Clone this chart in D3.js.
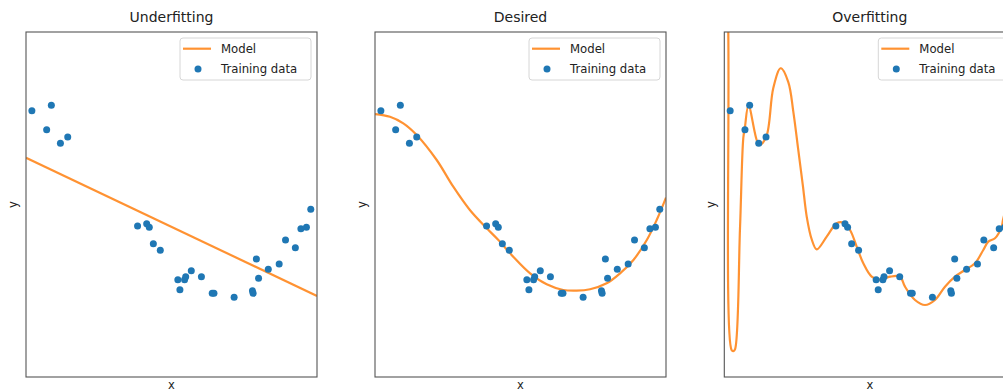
<!DOCTYPE html>
<html>
<head>
<meta charset="utf-8">
<script src="https://cdn.jsdelivr.net/npm/d3@7"></script>
<style>
  body { margin: 0; background: #fff; }
  svg { display: block; font-family: "DejaVu Sans", sans-serif; }
</style>
</head>
<body>
<div id="chart"></div>
<script>
// training samples (same in all three panels)
const trainX = [0.0202, 0.0710, 0.0871, 0.1183, 0.1434, 0.3834, 0.4147, 0.4237, 0.4376, 0.4615,
  0.5218, 0.5289, 0.5449, 0.5488, 0.5680, 0.6028, 0.6399, 0.6459, 0.7152, 0.7782,
  0.7805, 0.7917, 0.7992, 0.8326, 0.8700, 0.8918, 0.9256, 0.9447, 0.9637, 0.9786]
const trainY = [1.088, 0.867, 1.150, 0.710, 0.783, -0.249, -0.223, -0.264, -0.454, -0.531,
  -0.872, -0.988, -0.872, -0.837, -0.767, -0.837, -1.030, -1.030, -1.076, -0.999,
  -1.030, -0.632, -0.856, -0.751, -0.690, -0.412, -0.501, -0.281, -0.264, -0.056]

// model curves
const underX = [0, 1]
const underY = [0.543, -1.061]

const desiredX = [0, 0.0515, 0.0973, 0.1433, 0.212, 0.269, 0.326, 0.384, 0.424, 0.475,
  0.533, 0.590, 0.647, 0.693, 0.739, 0.796, 0.842, 0.888, 0.934, 0.968, 1]
const desiredY = [1.049, 1.018, 0.941, 0.806, 0.516, 0.206, -0.064, -0.276, -0.412, -0.605,
  -0.798, -0.925, -0.991, -0.999, -0.983, -0.914, -0.798, -0.643, -0.412, -0.180, 0.08]

const overX = [0, 0.0137, 0.0254, 0.0310, 0.0368, 0.054, 0.0653, 0.0711, 0.0832, 0.1203,
  0.1443, 0.1684, 0.1938, 0.2199, 0.237, 0.2543, 0.270, 0.2832, 0.300, 0.3175,
  0.3519, 0.3863, 0.4089, 0.4320, 0.4550, 0.4777, 0.5065, 0.5351, 0.5694, 0.6038,
  0.6210, 0.6553, 0.6897, 0.7241, 0.7584, 0.7928, 0.8271, 0.8615, 0.8900, 0.9072,
  0.9302, 0.9533, 0.9577, 0.975, 1]
const overY = [5.5, 2.0, -1.69, -1.70, -1.68, -0.272, 0.771, 0.902, 1.148, 0.690,
  0.788, 1.351, 1.580, 1.42, 1.08, 0.63, 0.22, -0.14, -0.40, -0.52,
  -0.373, -0.218, -0.211, -0.296, -0.489, -0.682, -0.837, -0.875, -0.837, -0.837,
  -0.953, -1.107, -1.165, -1.107, -0.953, -0.837, -0.759, -0.682, -0.527, -0.431,
  -0.392, -0.257, -0.180, 0.052, 0.4]

const titles = ["Underfitting", "Desired", "Overfitting"]
const modelsX = [underX, desiredX, overX]
const modelsY = [underY, desiredY, overY]

const W = 1003, H = 391
const pw = 291, ph = 345
const lefts = [26, 375, 724.3]
const topY = 32

const svg = d3.select("#chart").append("svg")
  .attr("width", W).attr("height", H)

const x = d3.scaleLinear().domain([0, 1]).range([0, pw])
const y = d3.scaleLinear().domain([-2, 2]).range([ph, 0])

titles.forEach((t, i) => {
  const g = svg.append("g").attr("transform", `translate(${lefts[i]},${topY})`)

  g.append("clipPath").attr("id", "clip" + i)
    .append("rect").attr("width", pw).attr("height", ph)

  const pts = modelsX[i].map((v, k) => [v, modelsY[i][k]])
  const line = d3.line()
    .x(d => x(d[0])).y(d => y(d[1]))
    .curve(i == 0 ? d3.curveLinear : d3.curveCatmullRom.alpha(0.5))

  g.append("path")
    .attr("clip-path", `url(#clip${i})`)
    .attr("d", line(pts))
    .attr("fill", "none")
    .attr("stroke", "#ff7f0e")
    .attr("stroke-opacity", 0.85)
    .attr("stroke-width", 2.2)
    .attr("stroke-linejoin", "round")

  g.selectAll("circle.pt")
    .data(trainX.map((v, k) => [v, trainY[k]]))
    .enter()
    .append("circle")
    .attr("class", "pt")
    .attr("cx", d => x(d[0]))
    .attr("cy", d => y(d[1]))
    .attr("r", 3.5)
    .attr("fill", "#1f77b4")

  // frame
  g.append("rect")
    .attr("width", pw).attr("height", ph)
    .attr("fill", "none")
    .attr("stroke", "#555")
    .attr("stroke-width", 1.1)

  g.append("text")
    .attr("x", pw / 2).attr("y", -10)
    .attr("text-anchor", "middle")
    .attr("font-size", 14)
    .attr("fill", "#222")
    .text(t)

  g.append("text")
    .attr("x", pw / 2).attr("y", ph + 12)
    .attr("text-anchor", "middle")
    .attr("font-size", 11.5)
    .attr("fill", "#222")
    .text("x")

  g.append("text")
    .attr("transform", `translate(-9,${ph / 2}) rotate(-90)`)
    .attr("text-anchor", "middle")
    .attr("font-size", 11.5)
    .attr("fill", "#222")
    .text("y")

  // legend
  const lg = g.append("g").attr("transform", `translate(${pw - 137},6)`)
  lg.append("rect")
    .attr("width", 131).attr("height", 42)
    .attr("rx", 3)
    .attr("fill", "#fff").attr("fill-opacity", 0.8)
    .attr("stroke", "#d6d6d6")
  lg.append("line")
    .attr("x1", 3).attr("x2", 31).attr("y1", 10.7).attr("y2", 10.7)
    .attr("stroke", "#ff7f0e").attr("stroke-opacity", 0.85).attr("stroke-width", 2.2)
  lg.append("circle")
    .attr("cx", 18).attr("cy", 31).attr("r", 3.5).attr("fill", "#1f77b4")
  lg.append("text").attr("x", 41).attr("y", 15)
    .attr("font-size", 11.7).attr("fill", "#222").text("Model")
  lg.append("text").attr("x", 41).attr("y", 35)
    .attr("font-size", 11.7).attr("fill", "#222").text("Training data")
})
</script>
</body>
</html>
